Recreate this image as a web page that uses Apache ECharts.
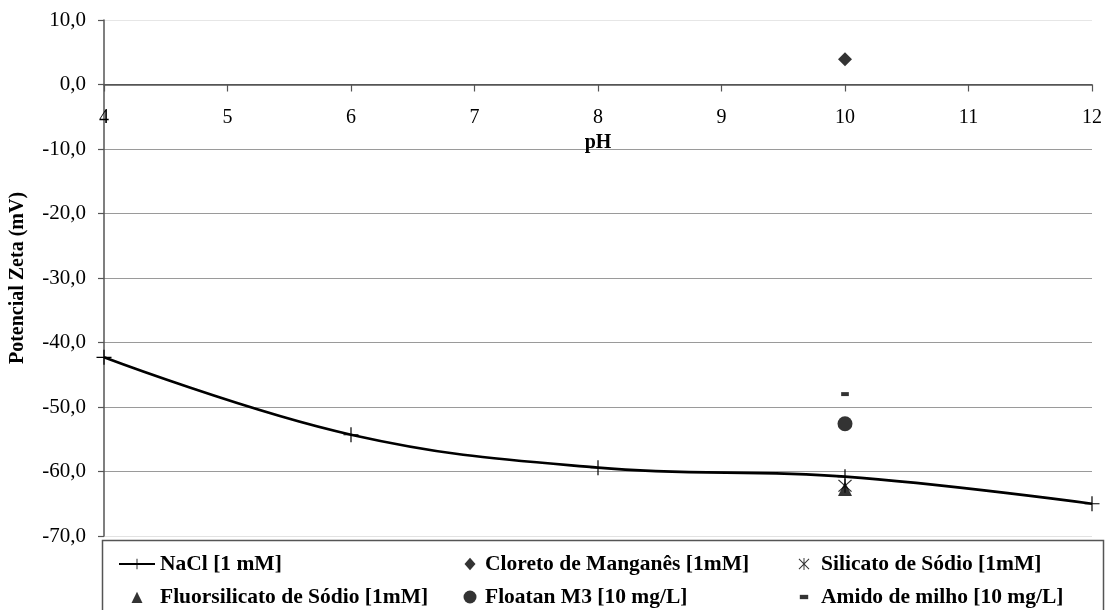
<!DOCTYPE html>
<html>
<head>
<meta charset="utf-8">
<title>Potencial Zeta x pH</title>
<script src="https://cdn.jsdelivr.net/npm/echarts@6/dist/echarts.min.js"></script>
<style>
  html, body { margin: 0; padding: 0; background: #fff; }
  #chart { width: 1115px; height: 610px; }
</style>
</head>
<body>
<div id="chart"></div>
<script>
// pH values and zeta potential readings (mV)
const phNaCl = [4, 6, 8, 10, 12];
const zetaNaCl = [-42.3, -54.3, -59.4, -60.8, -65.0];

const phReagents = [10];
const zetaCloreto = [3.9];
const zetaSilicato = [-62.2];
const zetaFluorsilicato = [-62.7];
const zetaFloatan = [-52.6];
const zetaAmido = [-48.0];

const seriesNames = [
  'NaCl [1 mM]',
  'Cloreto de Manganês [1mM]',
  'Silicato de Sódio [1mM]',
  'Fluorsilicato de Sódio [1mM]',
  'Floatan M3 [10 mg/L]',
  'Amido de milho [10 mg/L]'
];

const xAxisTitle = 'pH';
const yAxisTitle = 'Potencial Zeta (mV)';

const yMin = -70, yMax = 10;

// plot box
const gridLeft = 104, gridRight = 23, gridTop = 20, gridBottom = 74;
const plotHeight = 610 - gridTop - gridBottom;
// the pH axis sits on the zero line, so lift it from the bottom edge
const zeroLift = plotHeight * (0 - yMin) / (yMax - yMin);

// marker shapes (lone M points pad the box so legend icons stay small)
const plusPath = 'path://M4.6,0h0.8v10h-0.8z M0,4.6h10v0.8h-10z';
const starPath = 'path://M4.6,0h0.8v10h-0.8z M0.5,1.1L1.1,0.5L9.5,8.9L8.9,9.5z M8.9,0.5L9.5,1.1L1.1,9.5L0.5,8.9z';
const dashPath = 'path://M0,0 M10,10 M1.5,3.2h7v3.6h-7z';
const triangleIcon = 'path://M0,0 M36,13 M12.5,12.5 L18,1.2 L23.5,12.5 Z';
const diamondIcon = 'path://M0,0 M20,13 M10,0.2 L15.5,6.5 L10,12.8 L4.5,6.5 Z';

const serif = '"Liberation Serif", "Times New Roman", serif';

const pair = (xs, ys) => xs.map((x, i) => [x, ys[i]]);

const chart = echarts.init(document.getElementById('chart'), null, { renderer: 'canvas' });

const legendText = { fontFamily: serif, fontSize: 21.5, fontWeight: 'bold', color: '#000', lineHeight: 22 };
const legendBase = {
  orient: 'vertical', top: 553, padding: 0, itemGap: 11,
  symbolKeepAspect: true, textStyle: legendText
};

chart.setOption({
  animation: false,
  backgroundColor: '#fff',
  grid: { left: gridLeft, right: gridRight, top: gridTop, bottom: gridBottom },
  xAxis: {
    type: 'value',
    min: 4, max: 12, interval: 1,
    position: 'bottom',
    offset: -zeroLift,
    name: xAxisTitle,
    nameLocation: 'middle',
    nameGap: 48,
    nameTextStyle: { fontFamily: serif, fontSize: 20, fontWeight: 'bold', color: '#000' },
    axisLine: { onZero: false, lineStyle: { color: '#555', width: 1.5 } },
    axisTick: { show: true, inside: false, length: 7, lineStyle: { color: '#555', width: 1.2 } },
    axisLabel: { fontFamily: serif, fontSize: 20, color: '#000', margin: 23 },
    splitLine: { show: false }
  },
  yAxis: {
    type: 'value',
    min: yMin, max: yMax, interval: 10,
    name: yAxisTitle,
    nameLocation: 'middle',
    nameGap: 76,
    nameTextStyle: { fontFamily: serif, fontSize: 20, fontWeight: 'bold', color: '#000' },
    axisLine: { show: true, onZero: false, lineStyle: { color: '#555', width: 1.5 } },
    axisTick: { show: true, inside: false, length: 6, lineStyle: { color: '#555', width: 1.2 } },
    axisLabel: {
      fontFamily: serif, fontSize: 21, color: '#000', margin: 18,
      formatter: v => v.toFixed(1).replace('.', ',')
    },
    splitLine: {
      show: true,
      lineStyle: {
        color: ['#e2e2e2', '#9a9a9a', '#9a9a9a', '#9a9a9a', '#9a9a9a', '#9a9a9a', '#9a9a9a', '#555', '#e6e6e6'],
        width: 1
      }
    }
  },
  graphic: [{
    type: 'rect',
    shape: { x: 102.5, y: 540.5, width: 1001, height: 80 },
    style: { fill: 'none', stroke: '#555', lineWidth: 1.5 },
    z: 0
  }],
  legend: [
    Object.assign({}, legendBase, {
      data: [seriesNames[0], { name: seriesNames[3], icon: triangleIcon }],
      left: 118, itemWidth: 36, itemHeight: 13
    }),
    Object.assign({}, legendBase, {
      data: [{ name: seriesNames[1], icon: diamondIcon }, seriesNames[4]],
      left: 460, itemWidth: 20, itemHeight: 13
    }),
    Object.assign({}, legendBase, {
      data: [seriesNames[2], seriesNames[5]],
      left: 798, itemWidth: 24, itemHeight: 12
    })
  ],
  series: [
    {
      name: seriesNames[0], type: 'line', data: pair(phNaCl, zetaNaCl),
      smooth: 0.4, symbol: plusPath, symbolSize: 15,
      itemStyle: { color: '#000' },
      lineStyle: { color: '#000', width: 2.6 },
      z: 2
    },
    {
      name: seriesNames[1], type: 'scatter', data: pair(phReagents, zetaCloreto),
      symbol: 'diamond', symbolSize: 14, itemStyle: { color: '#000' }, z: 3
    },
    {
      name: seriesNames[2], type: 'scatter', data: pair(phReagents, zetaSilicato),
      symbol: starPath, symbolSize: 14, itemStyle: { color: '#000' }, z: 3
    },
    {
      name: seriesNames[3], type: 'scatter', data: pair(phReagents, zetaFluorsilicato),
      symbol: 'triangle', symbolSize: 14, itemStyle: { color: '#000' }, z: 4
    },
    {
      name: seriesNames[4], type: 'scatter', data: pair(phReagents, zetaFloatan),
      symbol: 'circle', symbolSize: 15, itemStyle: { color: '#000' }, z: 3
    },
    {
      name: seriesNames[5], type: 'scatter', data: pair(phReagents, zetaAmido),
      symbol: dashPath, symbolSize: 11, itemStyle: { color: '#000' }, z: 3
    }
  ]
});
</script>
</body>
</html>
